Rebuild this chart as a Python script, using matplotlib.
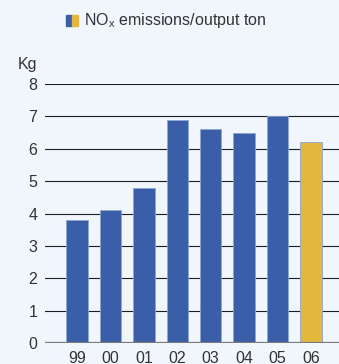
import matplotlib.pyplot as plt
from matplotlib.patches import Rectangle

plt.rcParams['font.family'] = ['Liberation Sans', 'DejaVu Sans']
plt.rcParams['mathtext.default'] = 'regular'

years = ['99', '00', '01', '02', '03', '04', '05', '06']
nox = [3.8, 4.1, 4.8, 6.9, 6.6, 6.5, 7.0, 6.2]
bar_colors = ['#3a5ea7'] * 7 + ['#e2b73b']

bg = '#f1f6fd'
fig = plt.figure(figsize=(3.39, 3.64), dpi=100, facecolor=bg)
ax = fig.add_axes([0.133, 0.0577, 0.867, 0.7115], facecolor=bg)

x = list(range(len(years)))
ax.bar(x, nox, width=0.64, color=bar_colors, edgecolor='#8ea5d3',
       linewidth=0.6, zorder=2)

# horizontal rules, zero line in grey on top
for v in range(1, 9):
    ax.axhline(v, color='#1e1e1e', lw=0.8, zorder=1)
ax.axhline(0, color='#7a7a7a', lw=1.6, zorder=3)

ax.set_xlim(-0.958, 7.84)
ax.set_ylim(0, 8)
ax.set_yticks(range(0, 9))
ax.set_xticks(x)
ax.set_xticklabels(years)
ax.tick_params(length=0, labelsize=11.5, colors='#333333')
ax.tick_params(axis='y', pad=5.5)
ax.tick_params(axis='x', pad=5.5)
for s in ax.spines.values():
    s.set_visible(False)

fig.text(18 / 339, 1 - 57 / 364, 'Kg', fontsize=11.5, color='#333333',
         ha='left', va='top')

# legend swatch, half blue half yellow
W, H = 339, 364
fig.patches.append(Rectangle((66 / W, 1 - 26 / H), 6 / W, 11 / H,
                             transform=fig.transFigure, color='#3a5ea7'))
fig.patches.append(Rectangle((72 / W, 1 - 26 / H), 6 / W, 11 / H,
                             transform=fig.transFigure, color='#e2b73b'))
fig.text(84 / W, 1 - 20.5 / H, r'NO$_{x}$ emissions/output ton', fontsize=11.5,
         color='#333333', ha='left', va='center')

fig.savefig('out.png', dpi=100, facecolor=bg)
